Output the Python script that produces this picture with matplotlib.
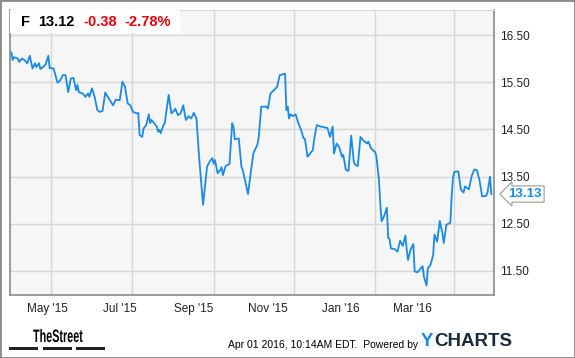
import numpy as np
import pandas as pd
import matplotlib
matplotlib.use("Agg")
import matplotlib.pyplot as plt
import matplotlib.dates as mdates
import matplotlib.transforms as mtransforms
from matplotlib.patches import Rectangle, PathPatch
from matplotlib.textpath import TextPath
from matplotlib.font_manager import FontProperties

plt.rcParams['font.family'] = ['Liberation Sans', 'DejaVu Sans']

# F daily close
dates = ['2015-04-01', '2015-04-02', '2015-04-03', '2015-04-06', '2015-04-07', '2015-04-09',
         '2015-04-11', '2015-04-13', '2015-04-15', '2015-04-17', '2015-04-19', '2015-04-20',
         '2015-04-22', '2015-04-23', '2015-04-25', '2015-04-27', '2015-04-29', '2015-04-30',
         '2015-05-03', '2015-05-05', '2015-05-06', '2015-05-08', '2015-05-10', '2015-05-12',
         '2015-05-14', '2015-05-16', '2015-05-18', '2015-05-20', '2015-05-21', '2015-05-22',
         '2015-05-25', '2015-05-27', '2015-05-29', '2015-05-30', '2015-06-01', '2015-06-03',
         '2015-06-05', '2015-06-07', '2015-06-09', '2015-06-11', '2015-06-13', '2015-06-16',
         '2015-06-17', '2015-06-19', '2015-06-22', '2015-06-24', '2015-06-26', '2015-06-28',
         '2015-06-30', '2015-07-02', '2015-07-05', '2015-07-06', '2015-07-07', '2015-07-09',
         '2015-07-10', '2015-07-12', '2015-07-14', '2015-07-15', '2015-07-16', '2015-07-18',
         '2015-07-20', '2015-07-21', '2015-07-22', '2015-07-23', '2015-07-25', '2015-07-26',
         '2015-07-29', '2015-07-31', '2015-08-02', '2015-08-03', '2015-08-05', '2015-08-07',
         '2015-08-09', '2015-08-11', '2015-08-13', '2015-08-15', '2015-08-17', '2015-08-19',
         '2015-08-21', '2015-08-22', '2015-08-24', '2015-08-27', '2015-08-29', '2015-08-31',
         '2015-09-01', '2015-09-02', '2015-09-04', '2015-09-06', '2015-09-07', '2015-09-08',
         '2015-09-10', '2015-09-13', '2015-09-15', '2015-09-16', '2015-09-17', '2015-09-20',
         '2015-09-22', '2015-09-23', '2015-09-25', '2015-09-27', '2015-09-29', '2015-10-01',
         '2015-10-04', '2015-10-05', '2015-10-07', '2015-10-11', '2015-10-12', '2015-10-14',
         '2015-10-19', '2015-10-21', '2015-10-25', '2015-10-26', '2015-10-27', '2015-10-28',
         '2015-10-29', '2015-10-31', '2015-11-02', '2015-11-04', '2015-11-06', '2015-11-08',
         '2015-11-09', '2015-11-11', '2015-11-13', '2015-11-15', '2015-11-16', '2015-11-18',
         '2015-11-21', '2015-11-26', '2015-11-28', '2015-11-30', '2015-12-01', '2015-12-03',
         '2015-12-05', '2015-12-07', '2015-12-08', '2015-12-10', '2015-12-12', '2015-12-14',
         '2015-12-16', '2015-12-17', '2015-12-19', '2015-12-21', '2015-12-23', '2015-12-26',
         '2015-12-27', '2015-12-29', '2016-01-01', '2016-01-02', '2016-01-04', '2016-01-05',
         '2016-01-06', '2016-01-08', '2016-01-10', '2016-01-11', '2016-01-12', '2016-01-13',
         '2016-01-16', '2016-01-18', '2016-01-20', '2016-01-22', '2016-01-24', '2016-01-25',
         '2016-01-26', '2016-01-28', '2016-01-30', '2016-01-31', '2016-02-02', '2016-02-04',
         '2016-02-06', '2016-02-07', '2016-02-09', '2016-02-10', '2016-02-12', '2016-02-14',
         '2016-02-15', '2016-02-17', '2016-02-19', '2016-02-21', '2016-02-22', '2016-02-24',
         '2016-02-27', '2016-02-28', '2016-02-29', '2016-03-01', '2016-03-04', '2016-03-06',
         '2016-03-08', '2016-03-09', '2016-03-12', '2016-03-14', '2016-03-16', '2016-03-18',
         '2016-03-20', '2016-03-22', '2016-03-25', '2016-03-26', '2016-03-28', '2016-03-29']

prices = [16.13, 15.97, 16.03, 16.00, 15.93, 16.00, 15.97, 15.90, 16.06, 15.79, 15.90, 15.82,
          15.90, 15.78, 15.82, 15.88, 16.06, 15.80, 15.79, 15.58, 15.49, 15.54, 15.65, 15.65,
          15.29, 15.58, 15.59, 15.33, 15.44, 15.29, 15.26, 15.19, 15.26, 15.19, 15.37, 15.19,
          14.91, 14.87, 14.89, 15.28, 15.19, 15.05, 15.01, 15.13, 15.12, 15.51, 15.40, 15.05,
          15.01, 14.87, 14.84, 14.85, 14.38, 14.34, 14.52, 14.59, 14.82, 14.63, 14.70, 14.63,
          14.56, 14.45, 14.49, 14.42, 14.59, 14.63, 15.23, 14.84, 14.89, 14.94, 14.80, 14.84,
          15.01, 14.70, 14.78, 14.73, 14.85, 14.73, 13.92, 13.57, 12.90, 13.71, 13.82, 13.89,
          13.77, 13.85, 13.57, 13.64, 13.70, 13.53, 13.72, 13.77, 14.63, 14.56, 14.29, 14.31,
          13.71, 13.64, 13.39, 13.13, 13.57, 13.99, 14.17, 14.31, 14.98, 14.98, 14.94, 15.26,
          15.40, 15.65, 15.68, 14.91, 14.98, 14.73, 14.82, 14.78, 14.82, 14.63, 14.50, 14.31,
          14.30, 13.92, 13.99, 14.06, 14.29, 14.59, 14.56, 14.53, 14.34, 14.56, 13.99, 14.20,
          14.12, 13.92, 13.96, 13.64, 13.62, 14.37, 13.81, 13.75, 13.72, 14.34, 14.27, 14.20,
          14.24, 14.10, 14.02, 13.94, 13.43, 12.94, 12.55, 12.67, 12.84, 12.20, 12.18, 11.98,
          11.96, 11.91, 12.14, 12.03, 12.25, 11.95, 11.73, 11.96, 12.07, 11.49, 11.47, 11.53,
          11.60, 11.38, 11.19, 11.56, 11.63, 11.84, 12.27, 12.12, 12.56, 12.30, 12.09, 12.48,
          12.52, 13.09, 13.47, 13.60, 13.61, 13.22, 13.16, 13.29, 13.23, 13.50, 13.65, 13.64,
          13.43, 13.08, 13.09, 13.15, 13.50, 13.13]

y_ticks = [11.50, 12.50, 13.50, 14.50, 15.50, 16.50]
grid_months = ['2015-05-01', '2015-07-01', '2015-09-01', '2015-11-01', '2016-01-01', '2016-03-01']
x_label_dates = ['2015-04-28', '2015-06-22', '2015-08-17', '2015-10-12', '2015-12-06', '2016-01-29']
x_labels = ["May '15", "Jul '15", "Sep '15", "Nov '15", "Jan '16", "Mar '16"]

ticker = 'F'
last_txt = '13.12'
chg_txt = '-0.38'
pct_txt = '-2.78%'
stamp = 'Apr 01 2016, 10:14AM EDT.  Powered by'

dt = pd.to_datetime(dates)
line_col = '#1a8ae6'

W, H = 575, 358
fig = plt.figure(figsize=(W / 100, H / 100), dpi=100)
fig.patch.set_facecolor('white')
ax = fig.add_axes([10 / W, 1 - 295 / H, 484 / W, 285 / H])
ax.set_facecolor('#f6f6f6')

ax.plot(dt, prices, color=line_col, lw=1.3, zorder=3)

ax.set_xlim(pd.Timestamp('2015-03-31'), pd.Timestamp('2016-03-31'))
ax.set_ylim(10.99, 17.03)

ax.set_xticks(pd.to_datetime(grid_months))
ax.set_xticklabels([])
ax.set_xticks(pd.to_datetime(x_label_dates), minor=True)
ax.set_xticklabels(x_labels, minor=True)
ax.tick_params(axis='x', which='both', length=0, pad=6, labelsize=8.5, labelcolor='#222222')

ax.yaxis.tick_right()
ax.set_yticks(y_ticks)
ax.set_yticklabels(['%.2f' % v for v in y_ticks])
ax.tick_params(axis='y', length=0, pad=4, labelsize=8.5, labelcolor='#222222')

ax.grid(True, which='major', color='#d6d6d6', lw=1)
ax.set_axisbelow(True)

for s in ['left', 'bottom', 'right']:
    ax.spines[s].set_color('#8a8a8a')
    ax.spines[s].set_linewidth(1.2)
ax.spines['top'].set_color('#d6d6d6')

# last value flag
trans = mtransforms.blended_transform_factory(ax.transAxes, ax.transData)
ax.text(1.03, prices[-1], '%.2f' % prices[-1], transform=trans, color=line_col,
        fontsize=9.5, fontweight='bold', va='center', ha='left', clip_on=False,
        bbox=dict(boxstyle='larrow,pad=0.16', fc='white', ec='#999999', lw=0.8))

# header quote box
fig.patches.append(Rectangle((10 / W, 1 - 33 / H), 170 / W, 23 / H, transform=fig.transFigure,
                             fc='white', ec='none', zorder=2))
hy = 1 - 22.5 / H
fig.text(21 / W, hy, ticker, fontsize=10.5, fontweight='bold', color='black', va='center', zorder=4)
fig.text(38 / W, hy, last_txt, fontsize=10.5, fontweight='bold', color='black', va='center', zorder=4)
fig.text(83 / W, hy, chg_txt, fontsize=10.5, fontweight='bold', color='#e8000b', va='center', zorder=4)
fig.text(124 / W, hy, pct_txt, fontsize=10.5, fontweight='bold', color='#e8000b', va='center', zorder=4)

# footer: condensed "TheStreet" logo text (pixel coords)
tp = TextPath((0, 0), 'TheStreet', size=18, prop=FontProperties(family='Liberation Sans', weight='bold'))
fig.patches.append(PathPatch(tp, transform=mtransforms.Affine2D().scale(0.6, 1.0).translate(33, H - 342),
                             fc='black', ec='none'))
for x0 in [9, 43, 76]:
    fig.patches.append(Rectangle((x0 / W, 1 - 350 / H), 29 / W, 3 / H, transform=fig.transFigure,
                                 fc='#222222', ec='none'))
fig.text(418 / W, 1 - 345 / H, stamp, fontsize=7.5, color='black', va='center', ha='right')
fig.text(421 / W, 1 - 341 / H, 'Y', fontsize=13.5, fontweight='bold', color='#1a8ae6', va='center')
fig.text(434 / W, 1 - 341 / H, 'CHARTS', fontsize=13.5, fontweight='bold', color='#1b2a3a', va='center')

# outer frame
fig.patches.append(Rectangle((0, 0), 1, 1, transform=fig.transFigure, fill=False,
                             ec='#8a8a8a', lw=2, zorder=5))

fig.savefig('out.png', dpi=100)
